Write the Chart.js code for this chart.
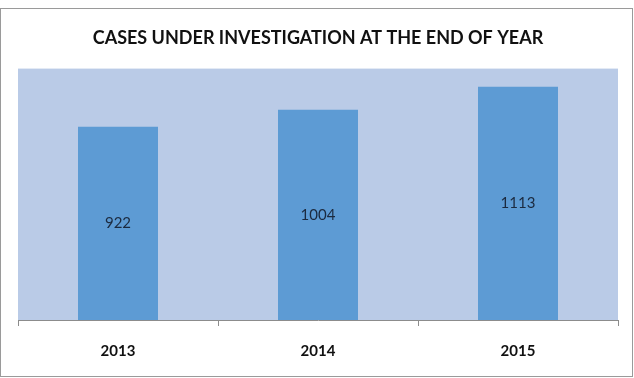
<!DOCTYPE html>
<html>
<head>
<meta charset="utf-8">
<script src="https://cdn.jsdelivr.net/npm/chart.js@4"></script>
<style>
  body { margin: 0; background: #fff; }
  #wrap {
    position: absolute; left: 0; top: 8px;
    width: 633px; height: 369px;
    border: 1px solid #9a9a9a; box-sizing: border-box;
  }
  canvas { display: block; }
</style>
</head>
<body>
<div id="wrap"><canvas id="bar" width="631" height="367"></canvas></div>
<script>
const years = ["2013", "2014", "2015"];
const cases = [922, 1004, 1113];
const yMax = 1200;

// fondo azul claro del area de la grafica
const plotBg = {
  id: "plotBg",
  beforeDraw(chart) {
    const a = chart.chartArea;
    const ctx = chart.ctx;
    ctx.save();
    ctx.fillStyle = "#bacbe7";
    ctx.fillRect(a.left, a.top, a.right - a.left, a.bottom - a.top);
    ctx.restore();
  },
};

// valores en el centro de cada barra
const centerLabels = {
  id: "centerLabels",
  afterDatasetsDraw(chart) {
    const ctx = chart.ctx;
    const meta = chart.getDatasetMeta(0);
    ctx.save();
    ctx.font = "15px Lato";
    ctx.fillStyle = "#1b2a3f";
    ctx.textAlign = "center";
    ctx.textBaseline = "middle";
    meta.data.forEach((bar, i) => {
      const mid = (bar.y + bar.base) / 2;
      ctx.fillText(String(cases[i]), bar.x, mid);
    });
    ctx.restore();
  },
};

new Chart(document.getElementById("bar"), {
  type: "bar",
  data: {
    labels: years,
    datasets: [
      {
        data: cases,
        backgroundColor: "#5d9bd4",
        borderWidth: 0,
        barPercentage: 0.4,
        categoryPercentage: 1,
      },
    ],
  },
  options: {
    responsive: false,
    animation: false,
    layout: { padding: { left: 17, right: 14, top: 0, bottom: 0 } },
    plugins: {
      legend: { display: false },
      tooltip: { enabled: false },
      title: {
        display: true,
        text: "CASES UNDER INVESTIGATION AT THE END OF YEAR",
        color: "#111",
        font: { family: "Lato", size: 18, weight: "bold" },
        padding: { top: 18, bottom: 20 },
      },
    },
    scales: {
      x: {
        grid: {
          offset: true,
          drawOnChartArea: false,
          drawTicks: true,
          tickLength: 6,
          color: "#8c8c8c",
        },
        border: { color: "#8c8c8c" },
        ticks: {
          color: "#111",
          padding: 16,
          font: { family: "Lato", size: 15, weight: "bold" },
        },
      },
      y: {
        display: false,
        min: 0,
        max: yMax,
      },
    },
  },
  plugins: [plotBg, centerLabels],
});
</script>
</body>
</html>
